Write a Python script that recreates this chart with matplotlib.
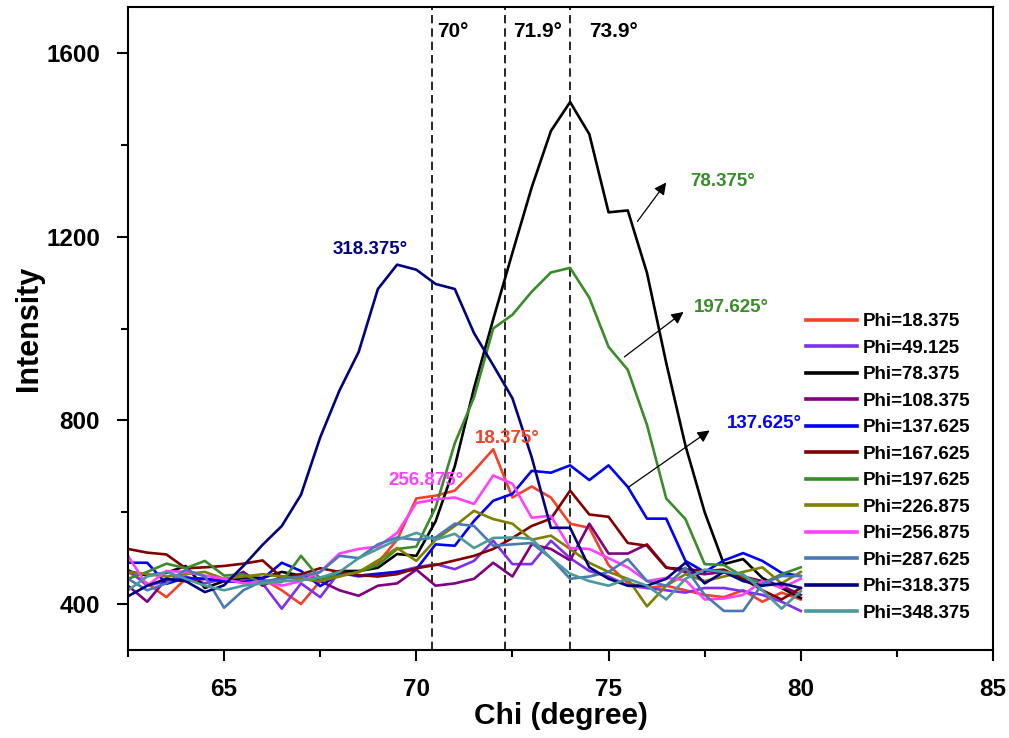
import numpy as np
import matplotlib
matplotlib.use("Agg")
import matplotlib.pyplot as plt
from matplotlib.ticker import MultipleLocator

plt.rcParams['font.family'] = ['Liberation Sans', 'DejaVu Sans']
plt.rcParams['font.weight'] = 'bold'

# ---------------- data ----------------
chi = np.arange(62.5, 80.01, 0.5)

phi_labels = ["Phi=18.375", "Phi=49.125", "Phi=78.375", "Phi=108.375", "Phi=137.625",
              "Phi=167.625", "Phi=197.625", "Phi=226.875", "Phi=256.875", "Phi=287.625",
              "Phi=318.375", "Phi=348.375"]

phi_18 = [470, 445, 415, 455, 455, 450, 450, 455, 430, 400, 450, 465, 470, 490, 540, 630,
          636, 647, 690, 737, 632, 656, 632, 575, 566, 485, 446, 435, 440, 430, 420, 415, 430, 405, 425, 410]
phi_49 = [475, 440, 450, 460, 445, 455, 455, 445, 390, 445, 415, 470, 460, 465, 470, 480,
          487, 476, 494, 538, 487, 487, 538, 500, 472, 460, 440, 435, 430, 425, 435, 435, 428, 420, 405, 385]
phi_78 = [472, 462, 468, 483, 435, 450, 458, 457, 470, 462, 455, 472, 472, 479, 509, 505,
          580, 700, 870, 1020, 1165, 1307, 1430, 1493, 1423, 1253, 1257, 1121, 925, 745, 600, 487, 498, 457, 435, 413]
phi_108 = [440, 405, 455, 450, 455, 450, 470, 440, 460, 455, 450, 430, 418, 440, 445, 475,
           440, 445, 455, 490, 460, 530, 520, 495, 575, 510, 510, 530, 480, 470, 465, 470, 460, 450, 440, 420]
phi_137 = [490, 490, 444, 457, 455, 450, 448, 455, 490, 472, 439, 466, 462, 466, 470, 476,
           530, 527, 581, 625, 640, 690, 686, 702, 670, 702, 655, 586, 586, 494, 470, 495, 511, 494, 468, 461]
phi_167 = [520, 512, 508, 478, 480, 483, 488, 495, 458, 465, 478, 470, 463, 460, 465, 478,
           485, 495, 505, 520, 544, 570, 586, 647, 595, 590, 533, 527, 479, 476, 472, 475, 455, 430, 410, 435]
phi_197 = [455, 470, 488, 478, 494, 462, 465, 445, 448, 505, 455, 462, 470, 485, 520, 525,
           610, 750, 850, 1000, 1030, 1080, 1122, 1132, 1067, 960, 910, 790, 630, 585, 487, 485, 460, 445, 465, 480]
phi_226 = [470, 465, 460, 465, 470, 455, 460, 465, 460, 455, 450, 460, 470, 495, 522, 494,
           540, 570, 603, 585, 575, 540, 549, 520, 490, 470, 455, 395, 440, 465, 450, 460, 470, 480, 445, 470]
phi_256 = [505, 440, 472, 470, 462, 455, 445, 450, 440, 450, 470, 510, 520, 525, 555, 620,
           628, 632, 618, 680, 662, 588, 592, 522, 520, 500, 480, 450, 457, 452, 410, 412, 420, 450, 435, 455]
phi_287 = [455, 430, 445, 475, 460, 392, 430, 450, 455, 460, 470, 505, 500, 530, 545, 540,
           545, 575, 570, 527, 530, 533, 500, 455, 460, 470, 498, 450, 440, 479, 420, 385, 385, 444, 461, 461]
phi_318 = [417, 440, 455, 450, 426, 441, 483, 529, 570, 638, 763, 865, 949, 1086, 1139, 1128,
           1097, 1086, 990, 920, 848, 720, 566, 566, 480, 455, 440, 440, 455, 490, 445, 470, 450, 440, 445, 435]
phi_348 = [430, 460, 470, 455, 440, 430, 440, 445, 450, 452, 458, 470, 500, 520, 540, 555,
           540, 553, 522, 544, 545, 542, 500, 466, 450, 440, 455, 440, 410, 455, 475, 470, 465, 430, 390, 428]

series = [phi_18, phi_49, phi_78, phi_108, phi_137, phi_167, phi_197, phi_226,
          phi_256, phi_287, phi_318, phi_348]
colors = ['#f5402a', '#7f2ff0', '#000000', '#800080', '#0000ff', '#800000',
          '#3a8c2a', '#808000', '#ff40ff', '#4a78b4', '#000080', '#4a9a9a']

ref_lines = [70.4, 72.3, 74.0]
ref_texts = ["70°", "71.9°", "73.9°"]

# ---------------- figure ----------------
fig = plt.figure(figsize=(10.09, 7.38), dpi=100)
ax = fig.add_axes([128/1009, 1 - 650/738, (993-128)/1009, (650-7)/738])

for ys, c, lab in zip(series, colors, phi_labels):
    ax.plot(chi, ys, color=c, lw=1.9, label=lab)

for xv in ref_lines:
    ax.axvline(xv, color='black', lw=1.2, ls=(0, (5, 3)), zorder=1)

for xv, t in zip([70.55, 72.52, 74.5], ref_texts):
    ax.text(xv, 1647, t, fontsize=15, fontweight='bold', ha='left', va='center')

# peak annotations
fs_ann = 13.5
ax.text(68.8, 1172, "318.375°", color='#000080', fontsize=fs_ann, fontweight='bold', ha='center', va='center')
ax.text(72.36, 761, "18.375°", color='#f5402a', fontsize=fs_ann, fontweight='bold', ha='center', va='center')
ax.text(70.25, 669, "256.875°", color='#ff40ff', fontsize=fs_ann, fontweight='bold', ha='center', va='center')

arrow = dict(arrowstyle='-|>', color='black', lw=0.9, mutation_scale=18, shrinkA=0, shrinkB=0)
ax.annotate("", xy=(76.5, 1318), xytext=(75.75, 1233), arrowprops=arrow)
ax.annotate("", xy=(76.95, 1036), xytext=(75.41, 938), arrowprops=arrow)
ax.annotate("", xy=(77.63, 778), xytext=(75.51, 654), arrowprops=arrow)
ax.text(77.97, 1320, "78.375°", color='#3a8c2a', fontsize=fs_ann, fontweight='bold', ha='center', va='center')
ax.text(78.2, 1045, "197.625°", color='#3a8c2a', fontsize=fs_ann, fontweight='bold', ha='center', va='center')
ax.text(79.06, 793, "137.625°", color='#0000ff', fontsize=fs_ann, fontweight='bold', ha='center', va='center')

ax.set_xlim(62.5, 85)
ax.set_ylim(300, 1700)
ax.xaxis.set_major_locator(MultipleLocator(5))
ax.xaxis.set_minor_locator(MultipleLocator(2.5))
ax.yaxis.set_major_locator(MultipleLocator(400))
ax.yaxis.set_minor_locator(MultipleLocator(200))
ax.tick_params(which='major', direction='out', length=8, width=1.5, labelsize=17.5)
ax.tick_params(axis='x', which='major', pad=12)
ax.tick_params(axis='y', which='major', pad=12)
ax.tick_params(which='minor', direction='out', length=5, width=1.5)
for lab in ax.get_xticklabels() + ax.get_yticklabels():
    lab.set_fontweight('bold')
for sp in ax.spines.values():
    sp.set_linewidth(1.5)

ax.set_xlabel("Chi (degree)", fontsize=21.5, fontweight='bold', labelpad=1)
ax.set_ylabel("Intensity", fontsize=22, fontweight='bold', labelpad=2)

leg = ax.legend(loc='upper left', bbox_to_anchor=((806-128)/865, (650-313)/643),
                frameon=False, fontsize=13.5, handlelength=2.7, handletextpad=0.3,
                labelspacing=0.5, borderaxespad=0, borderpad=0)
for t in leg.get_texts():
    t.set_fontweight('bold')
for h in leg.get_lines():
    h.set_linewidth(2.6)

fig.savefig("out.png", dpi=100)
